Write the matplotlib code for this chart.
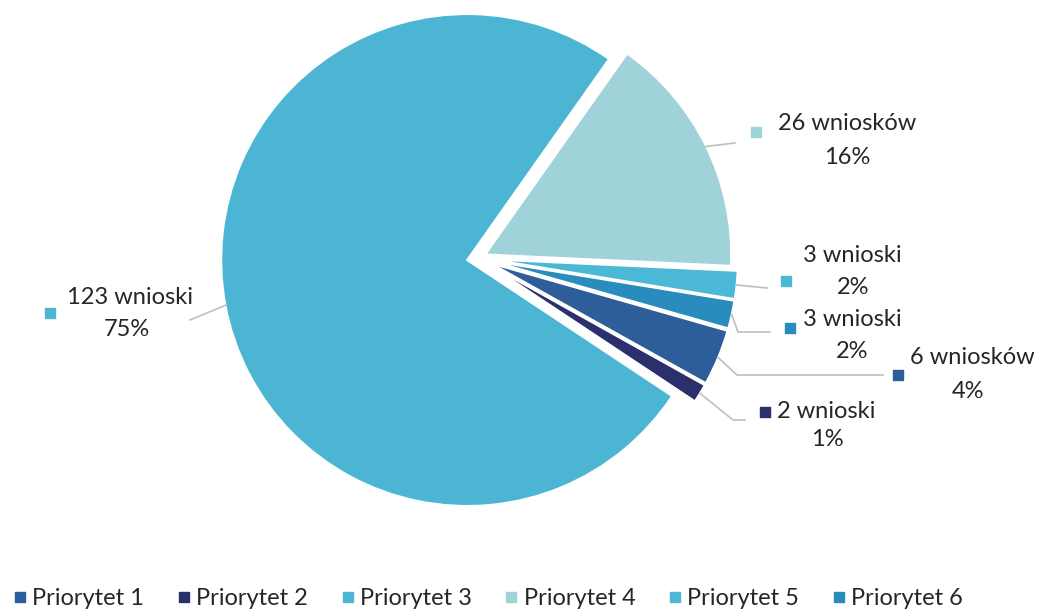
import math
import matplotlib.pyplot as plt
from matplotlib.lines import Line2D

plt.rcParams['font.family'] = ['Lato', 'DejaVu Sans']

# dane
priorytety = ['Priorytet 1', 'Priorytet 2', 'Priorytet 3', 'Priorytet 4', 'Priorytet 5', 'Priorytet 6']
wnioski = [6, 2, 123, 26, 3, 3]
etykiety = ['6 wniosków', '2 wnioski', '123 wnioski', '26 wniosków', '3 wnioski', '3 wnioski']
procenty = ['4%', '1%', '75%', '16%', '2%', '2%']
kolory = ['#2e5e9a', '#2b2f6b', '#4bb5d3', '#9fd2d9', '#4bb8d6', '#2a8bbd']

W, H = 1039, 610


def Y(y):
    return H - y


fig = plt.figure(figsize=(W / 100, H / 100), dpi=100)
ax = fig.add_axes([0, 0, 1, 1])

cx, cy, r = 478, Y(258), 246
explode = [14, 14, 11, 8, 14, 14]
wedges, _ = ax.pie(wnioski, colors=kolory, startangle=-15.9, counterclock=False,
                   explode=explode, radius=r, center=(cx, cy),
                   wedgeprops=dict(edgecolor='white', linewidth=1.5))

# pozycje etykiet (piksele, y od góry)
# l1: lewy brzeg i srodek 1. linii, l2: srodek 2. linii, sq: kwadrat, path: linia odniesienia
label_pos = [
    dict(l1=(910, 358), l2=(968, 392), sq=(898, 375), path=[(737, 375), (883, 375)]),
    dict(l1=(777, 412), l2=(827, 440), sq=(765, 412), path=[(733, 420), (745, 420)]),
    dict(l1=(67, 298), l2=(127, 330), sq=(50, 313), path=[(190, 320)]),
    dict(l1=(778, 123), l2=(847, 157), sq=(756, 132), path=[(735, 143)]),
    dict(l1=(803, 255), l2=(853, 288), sq=(786, 281), path=[(767, 288)]),
    dict(l1=(803, 320), l2=(852, 352), sq=(790, 328), path=[(738, 332), (770, 332)]),
]

for w, lab, pct, col, pos in zip(wedges, etykiety, procenty, kolory, label_pos):
    th = math.radians((w.theta1 + w.theta2) / 2)
    x0 = w.center[0] + w.r * math.cos(th)
    y0 = w.center[1] + w.r * math.sin(th)
    xs = [x0] + [p[0] for p in pos['path']]
    ys = [y0] + [Y(p[1]) for p in pos['path']]
    ax.plot(xs, ys, color='#bfbfbf', lw=1.2, zorder=1)
    ax.scatter([pos['sq'][0]], [Y(pos['sq'][1])], marker='s', s=48, color=col, zorder=3)
    ax.text(pos['l1'][0], Y(pos['l1'][1]), lab, ha='left', va='center',
            fontsize=17, color='#262626')
    ax.text(pos['l2'][0], Y(pos['l2'][1]), pct, ha='center', va='center',
            fontsize=17, color='#262626')

handles = [Line2D([], [], marker='s', ls='', color=c, markersize=7) for c in kolory]
ax.legend(handles, priorytety, loc='lower left', bbox_to_anchor=(-0.008, -0.034), ncol=6,
          frameon=False, fontsize=17, handlelength=0.6, handletextpad=0.22,
          columnspacing=1.38, labelcolor='#262626')

ax.set_xlim(0, W)
ax.set_ylim(0, H)
ax.set_aspect('equal')
ax.axis('off')

fig.savefig('out.png', dpi=100, facecolor='white')
